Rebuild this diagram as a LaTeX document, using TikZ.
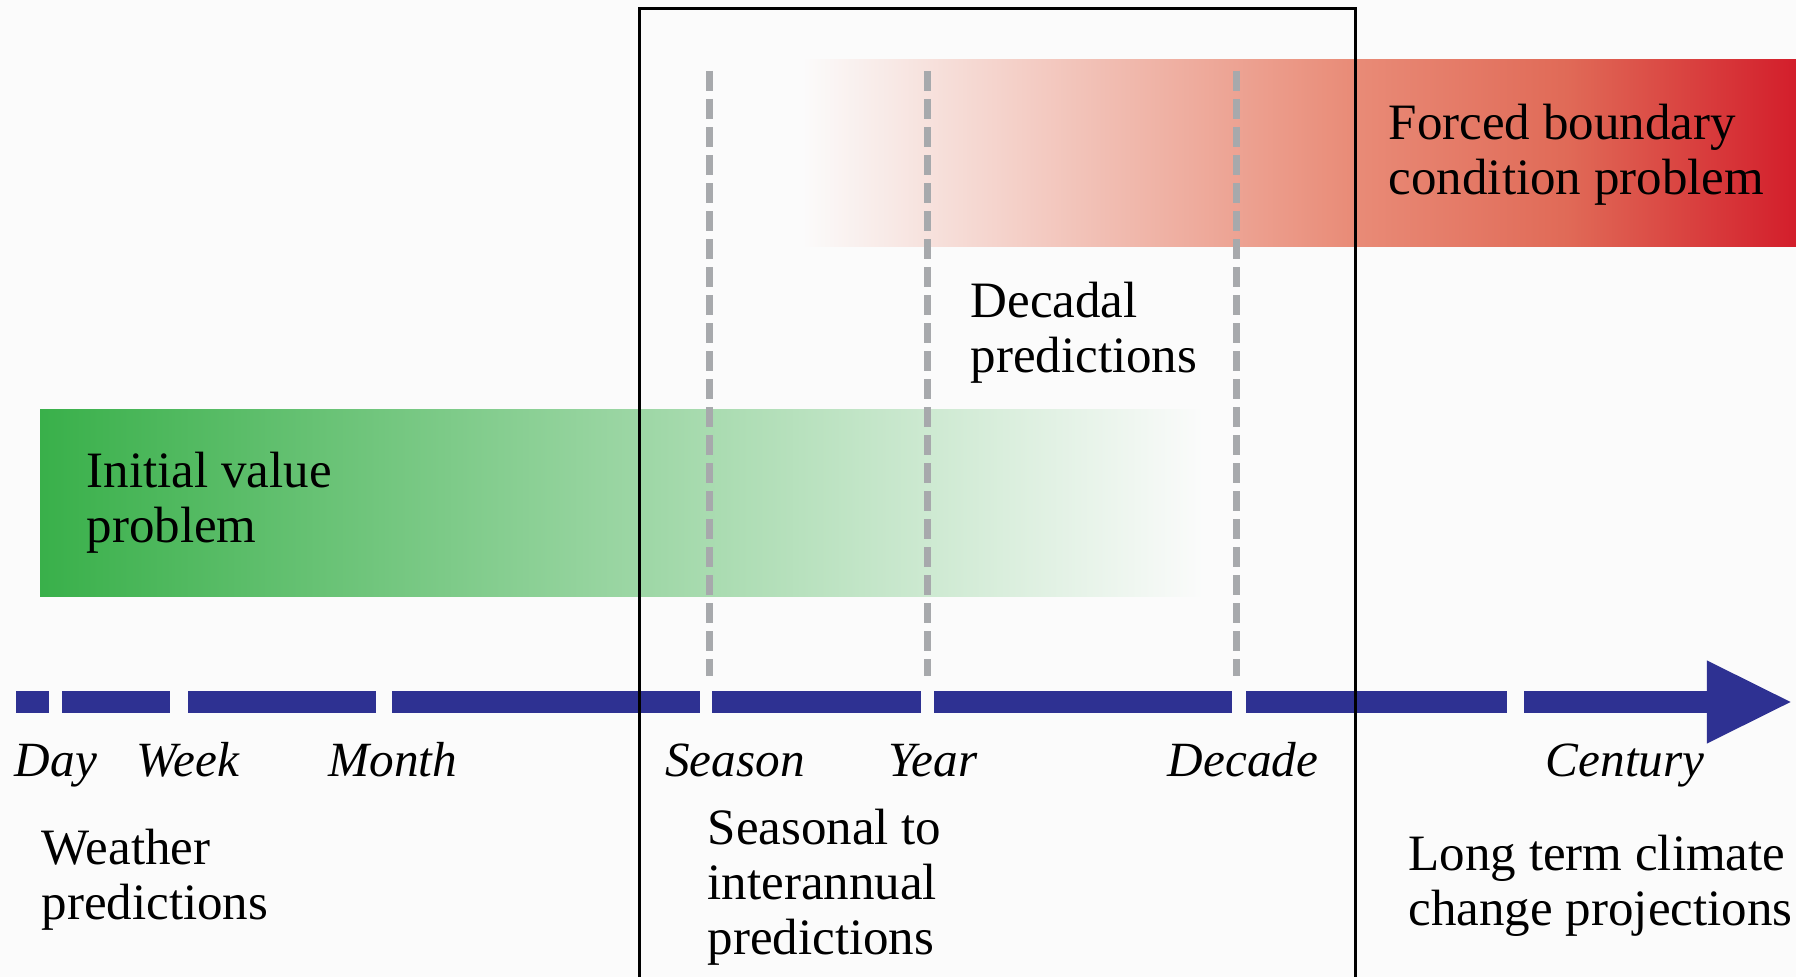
\documentclass[tikz,border=0pt]{standalone}
\usepackage{fontspec}
\setmainfont{Liberation Serif}
\usetikzlibrary{positioning, arrows.meta}

\definecolor{bggrey}{RGB}{251,251,251}
\definecolor{axisblue}{RGB}{46,49,146}
\definecolor{initgreen}{RGB}{57,176,74}
\definecolor{dashgrey}{RGB}{167,169,172}
\definecolor{redmid}{RGB}{233,140,120}
\definecolor{redhi}{RGB}{224,106,87}
\definecolor{redend}{RGB}{211,30,43}

% white -> salmon -> red, for the forced problem band (path spans 25bp to 75bp)
\pgfdeclarehorizontalshading{forcedshade}{100bp}{color(0bp)=(bggrey); color(25bp)=(bggrey); color(52.5bp)=(redmid); color(63.5bp)=(redhi); color(75bp)=(redend); color(100bp)=(redend)}

\begin{document}
\begin{tikzpicture}[x=0.01cm, y=-0.01cm,
    seg/.style={draw=axisblue, line width=0.22cm},
    guide/.style={draw=dashgrey, line width=0.07cm, dash pattern=on 0.2cm off 0.08cm},
    blurb/.style={inner sep=0pt, anchor=base west, align=left, font=\fontsize{14.5}{15.65}\selectfont},
    timescale/.style={inner sep=0pt, anchor=base, font=\fontsize{14}{16}\selectfont\itshape}]

  % Canvas
  \fill [bggrey] (0,0) rectangle (1796,977);
  \useasboundingbox (0,0) rectangle (1796,977);

  % The two fading bands
  \shade [left color=initgreen, right color=bggrey] (40,410) rectangle (1203,597);
  \shade [shading=forcedshade] (802,60) rectangle (1796,247);

  % Dashed guides at season, year and decade
  \foreach \gx in {709, 927, 1236}
    \draw [guide] (\gx,71) -- (\gx,676);

  % Time axis, broken into pieces
  \foreach \a/\b in {16/49, 62/170, 188/376, 392/700, 712/921, 934/1232, 1246/1507}
    \draw [seg] (\a,702) -- (\b,702);
  \draw [seg, -{Triangle[length=0.86cm, width=0.76cm]}] (1524,702) -- (1793,702);

  % Box around the middle range (open at the bottom)
  \draw [line width=0.03cm] (639,977) -- (639,9) -- (1355,9) -- (1355,977);

  % Labels under the axis
  \node (day) [timescale] at (56,777) {Day};
  \node (week) [timescale] at (188,777) {Week};
  \node (month) [timescale] at (393,777) {Month};
  \node (season) [timescale] at (735,777) {Season};
  \node (year) [timescale] at (933,777) {Year};
  \node (decade) [timescale] at (1243,777) {Decade};
  \node (century) [timescale] at (1625,777) {Century};

  % Text blocks (placed at the baseline of their last line)
  \node (forced_lbl) [blurb] at (1388,195) {Forced boundary\\condition problem};
  \node (decadal_lbl) [blurb] at (970,373) {Decadal\\predictions};
  \node (initial_lbl) [blurb] at (86,543) {Initial value\\problem};
  \node (weather_lbl) [blurb] at (41,920) {Weather\\predictions};
  \node (seasonal_lbl) [blurb] at (707,955) {Seasonal to\\interannual\\predictions};
  \node (longterm_lbl) [blurb] at (1408,926) {Long term climate\\change projections};

\end{tikzpicture}
\end{document}
